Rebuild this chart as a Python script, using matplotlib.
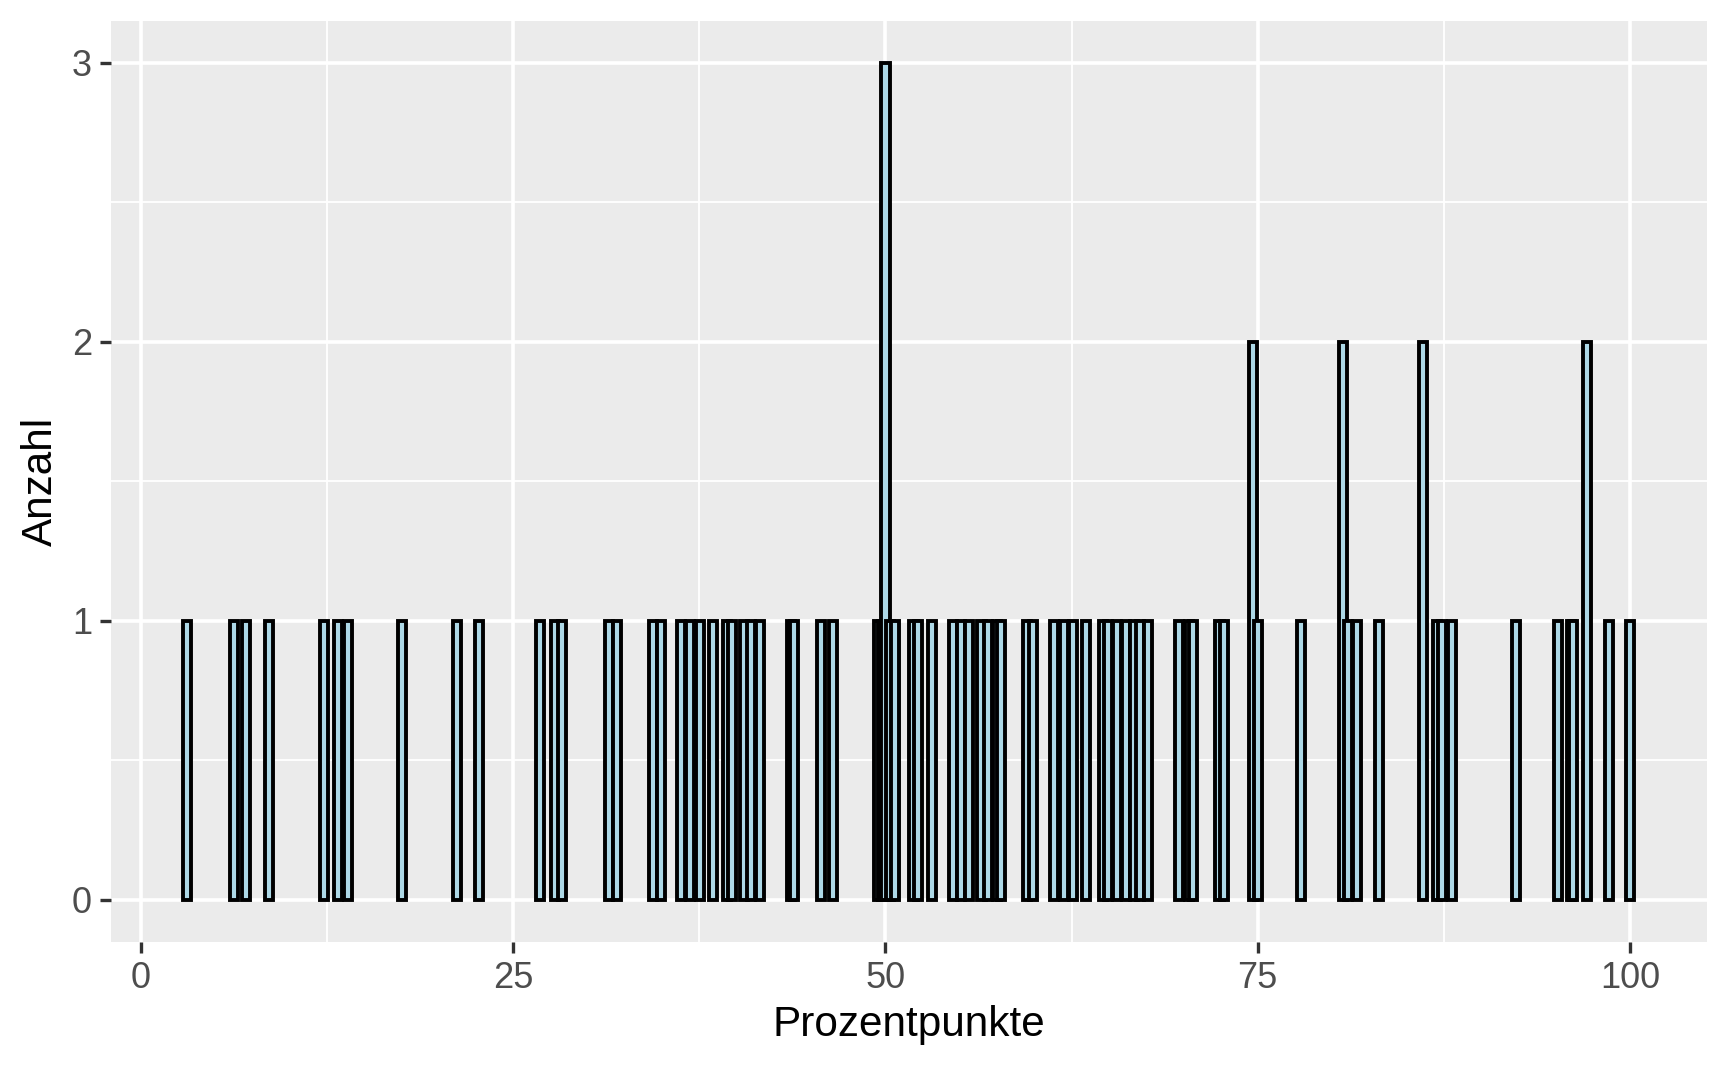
import matplotlib
matplotlib.use("Agg")
import matplotlib.pyplot as plt
from matplotlib.ticker import FixedLocator

# Data (value in percentage points, count)
values = [3.11, 6.24, 7.07, 8.61, 12.29, 13.23, 13.92, 17.53, 21.26, 22.74,
          26.83, 27.80, 28.29, 31.42, 32.00, 34.38, 34.94, 36.26, 36.90, 37.57,
          38.41, 39.37, 39.70, 40.53, 40.98, 41.58, 43.67, 43.85, 45.68, 46.51,
          49.51, 49.76, 50.01, 50.33, 50.65, 51.89, 52.21, 53.13, 54.53, 55.06,
          55.60, 56.46, 56.87, 57.50, 57.77, 59.52, 59.91, 61.31, 62.00, 62.58,
          63.47, 64.63, 64.95, 65.53, 66.14, 66.72, 67.10, 67.66, 69.72, 70.37,
          70.68, 72.44, 72.76, 74.70, 75.00, 77.89, 80.75, 81.09, 81.65, 83.17,
          86.08, 87.05, 87.36, 88.03, 92.35, 95.17, 96.05, 96.19, 97.13, 98.57,
          100.0]
counts = [1, 1, 1, 1, 1, 1, 1, 1, 1, 1,
          1, 1, 1, 1, 1, 1, 1, 1, 1, 1,
          1, 1, 1, 1, 1, 1, 1, 1, 1, 1,
          1, 1, 3, 1, 1, 1, 1, 1, 1, 1,
          1, 1, 1, 1, 1, 1, 1, 1, 1, 1,
          1, 1, 1, 1, 1, 1, 1, 1, 1, 1,
          1, 1, 1, 2, 1, 1, 2, 1, 1, 1,
          2, 1, 1, 1, 1, 1, 1, 1, 2, 1,
          1]

x_ticks = [0, 25, 50, 75, 100]
x_minor = [12.5, 37.5, 62.5, 87.5]
y_ticks = [0, 1, 2, 3]
y_minor = [0.5, 1.5, 2.5]
x_label = "Prozentpunkte"
y_label = "Anzahl"

plt.rcParams['font.family'] = ['Liberation Sans', 'DejaVu Sans']

W, H, DPI = 1728, 1067, 200
fig = plt.figure(figsize=(W / DPI, H / DPI), dpi=DPI)
left, right, top, bottom = 111, 1706.7, 21, 941.7
ax = fig.add_axes([left / W, 1 - bottom / H, (right - left) / W, (bottom - top) / H])
ax.set_facecolor('#EBEBEB')

ax.bar(values, counts, width=0.55, color='#ADD8E6', edgecolor='black',
       linewidth=1.4, zorder=3)

ax.set_xlim(-1.994, 105.15)
ax.set_ylim(-0.15, 3.15)

ax.xaxis.set_major_locator(FixedLocator(x_ticks))
ax.xaxis.set_minor_locator(FixedLocator(x_minor))
ax.yaxis.set_major_locator(FixedLocator(y_ticks))
ax.yaxis.set_minor_locator(FixedLocator(y_minor))
ax.set_xticklabels([str(t) for t in x_ticks])
ax.set_yticklabels([str(t) for t in y_ticks])

ax.grid(which='major', color='white', linewidth=1.3, zorder=0)
ax.grid(which='minor', color='white', linewidth=0.65, zorder=0)
ax.set_axisbelow(True)

for s in ax.spines.values():
    s.set_visible(False)

ax.tick_params(which='major', length=3.8, width=1.2, color='#333333',
               labelsize=13, labelcolor='#4D4D4D', pad=3)
ax.tick_params(which='minor', length=0)

ax.set_xlabel(x_label, fontsize=15.2, color='black', labelpad=3.5)
ax.set_ylabel(y_label, fontsize=15.2, color='black', labelpad=4)

fig.savefig('out.png', dpi=DPI, facecolor='white')
